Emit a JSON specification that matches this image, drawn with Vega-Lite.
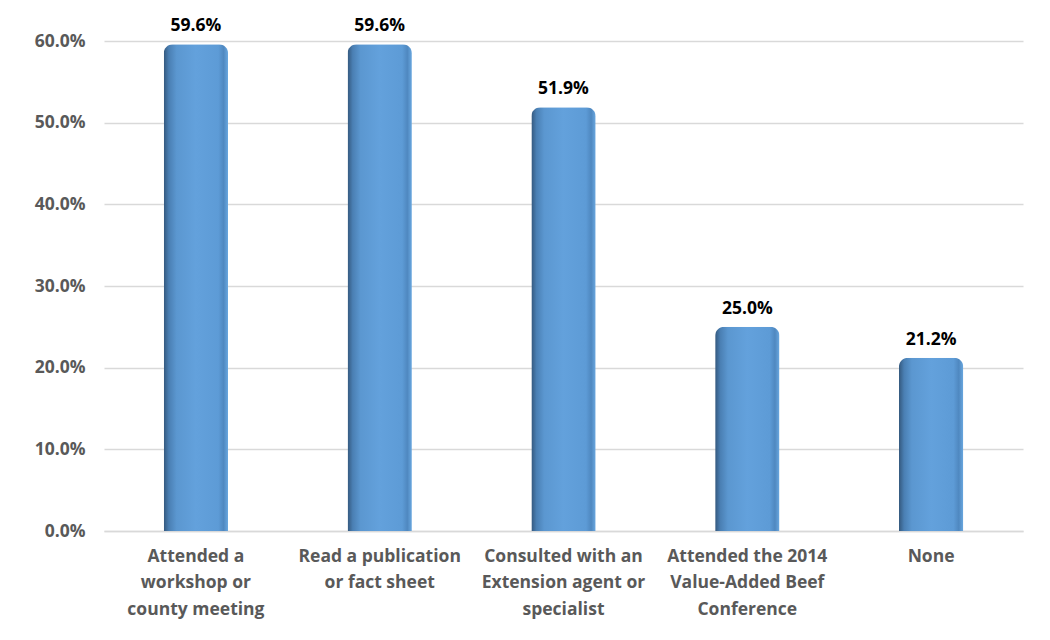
{
  "$schema": "https://vega.github.io/schema/vega-lite/v6.json",
  "width": 919,
  "height": 490,
  "autosize": {"type": "none"},
  "padding": {"left": 104, "top": 41, "right": 27, "bottom": 109},
  "background": "white",
  "config": {
    "view": {"stroke": null},
    "font": "Open Sans"
  },
  "data": {
    "values": [
      {"activity": "Attended a\nworkshop or\ncounty meeting", "share": 0.596},
      {"activity": "Read a publication\nor fact sheet", "share": 0.596},
      {"activity": "Consulted with an\nExtension agent or\nspecialist", "share": 0.519},
      {"activity": "Attended the 2014\nValue-Added Beef\nConference", "share": 0.25},
      {"activity": "None", "share": 0.212}
    ]
  },
  "encoding": {
    "x": {
      "field": "activity",
      "type": "nominal",
      "sort": null,
      "scale": {"paddingInner": 0.65, "paddingOuter": 0.325},
      "axis": {
        "title": null,
        "labelAngle": 0,
        "labelExpr": "split(datum.value, '\\n')",
        "labelFont": "Open Sans",
        "labelFontWeight": "bold",
        "labelFontSize": 17.5,
        "labelColor": "#595959",
        "labelLineHeight": 26.5,
        "labelPadding": 16,
        "labelBaseline": "top",
        "labelLimit": 250,
        "ticks": false,
        "domainColor": "#d9d9d9",
        "domainWidth": 1.5
      }
    },
    "y": {
      "field": "share",
      "type": "quantitative",
      "scale": {"domain": [0, 0.6], "nice": false},
      "axis": {
        "title": null,
        "format": ".1%",
        "values": [0, 0.1, 0.2, 0.3, 0.4, 0.5, 0.6],
        "labelFont": "Open Sans",
        "labelFontWeight": "bold",
        "labelFontSize": 17.5,
        "labelColor": "#595959",
        "labelPadding": 19,
        "ticks": false,
        "domain": false,
        "gridColor": "#d9d9d9",
        "gridWidth": 1.5
      }
    }
  },
  "layer": [
    {
      "mark": {
        "type": "bar",
        "cornerRadiusTopLeft": 9,
        "cornerRadiusTopRight": 9,
        "color": {
          "gradient": "linear",
          "x1": 0, "y1": 0, "x2": 1, "y2": 0,
          "stops": [
            {"offset": 0, "color": "#34587d"},
            {"offset": 0.08, "color": "#4a7fb3"},
            {"offset": 0.2, "color": "#5b97d0"},
            {"offset": 0.5, "color": "#63a1dc"},
            {"offset": 0.85, "color": "#5d9bd6"},
            {"offset": 0.93, "color": "#4f88c0"},
            {"offset": 1, "color": "#6aa8e0"}
          ]
        }
      }
    },
    {
      "mark": {
        "type": "text",
        "baseline": "bottom",
        "dy": -9,
        "font": "Open Sans",
        "fontWeight": "bold",
        "fontSize": 17.5,
        "color": "#000000"
      },
      "encoding": {
        "text": {"field": "share", "type": "quantitative", "format": ".1%"}
      }
    }
  ]
}
